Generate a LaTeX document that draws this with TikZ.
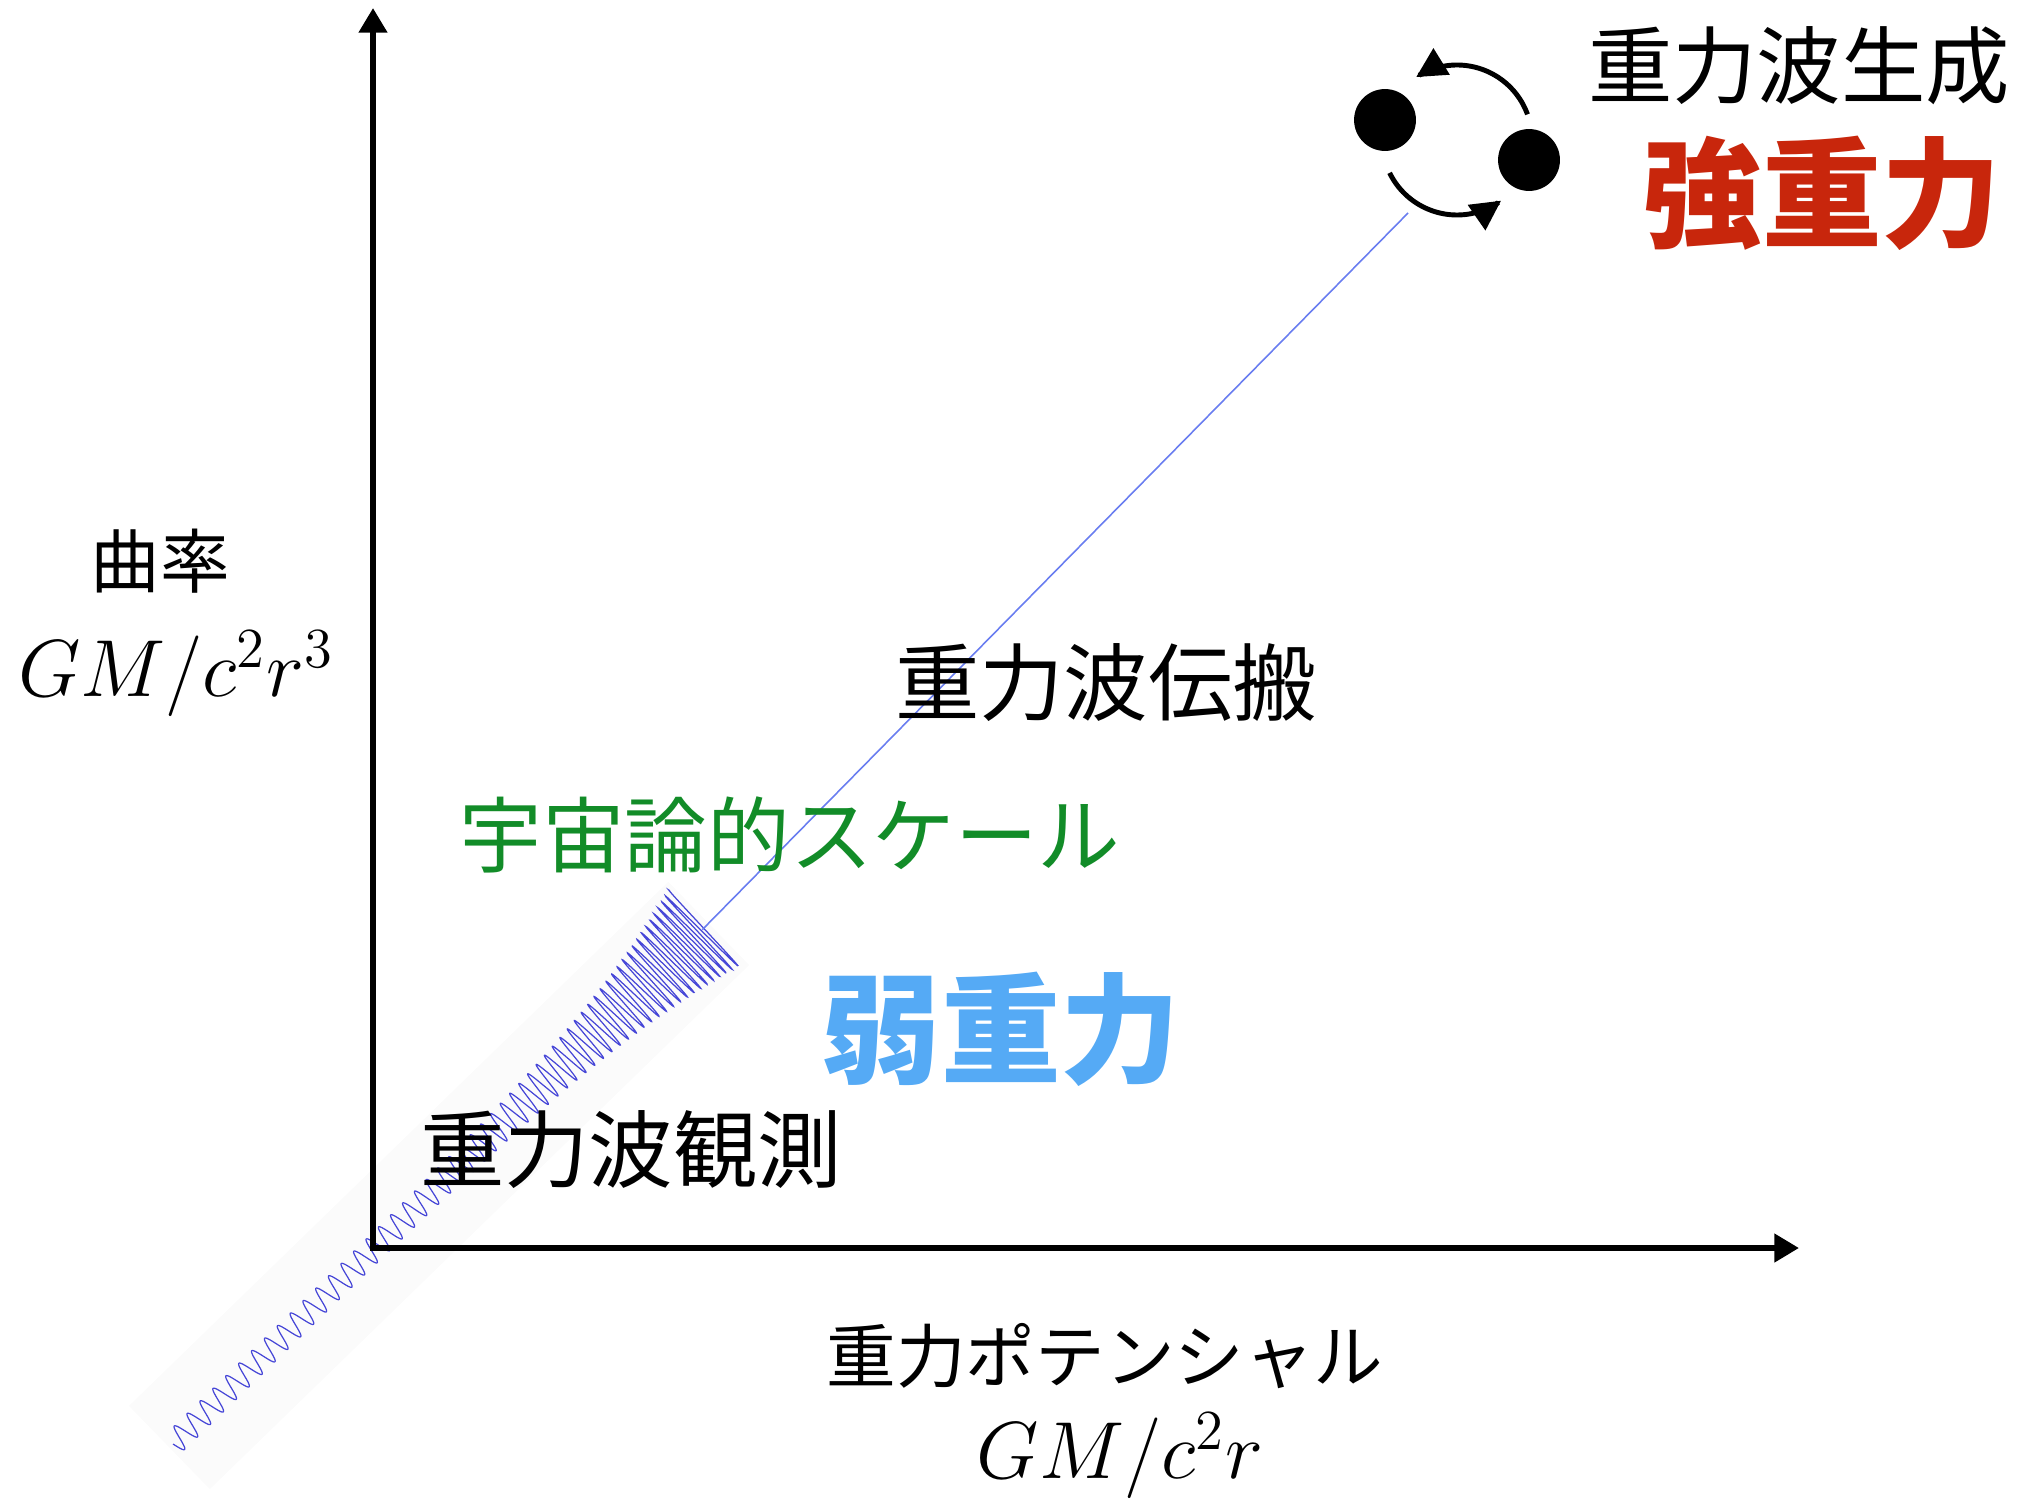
\RequirePackage{fix-cm}
\documentclass[tikz,border=0pt]{standalone}
\usepackage{fontspec}
\usetikzlibrary{arrows.meta}
\newfontfamily\jp{Noto Sans CJK JP}
\definecolor{strongred}{RGB}{200,38,12}
\definecolor{weakblue}{RGB}{85,170,245}
\definecolor{cosmogreen}{RGB}{18,140,40}
\definecolor{wavecol}{RGB}{70,70,215}
\definecolor{raycol}{RGB}{105,125,240}
\definecolor{bandgray}{RGB}{251,251,251}
\tikzset{
  axisline/.style={line width=1.7pt, {Triangle[length=7pt,width=7.8pt]}-{Triangle[length=7pt,width=7.8pt]}},
  label/.style={inner sep=0pt, font=\jp\fontsize{24}{28}\selectfont},
  axislabel/.style={inner sep=0pt, font=\jp\fontsize{19.8}{24}\selectfont},
  mathlabel/.style={inner sep=0pt, font=\fontsize{23}{27}\selectfont},
  bigword/.style={inner sep=0pt, font=\jp\bfseries\fontsize{34}{40}\selectfont},
  star/.style={circle, fill=black, minimum size=17.6pt, inner sep=0pt},
  orbit/.style={line width=1.4pt, -{Triangle[length=8.5pt,width=8.5pt]}},
  ray/.style={raycol, line width=0.45pt},
  wave/.style={wavecol, line width=0.35pt}
}
\begin{document}
\begin{tikzpicture}[x=0.01cm, y=-0.01cm]
\useasboundingbox (0,0) rectangle (2025,1500);

% axes
\coordinate (ytip) at (373,8);
\coordinate (O) at (373,1248);
\coordinate (xtip) at (1799,1248);

% chirping wave train, drawn along its own axis (u runs 0..1 over 742 units)
\coordinate (wstart) at (173,1444);
\begin{scope}[shift={(wstart)}, rotate=44.18]
  \fill[bandgray] (-5,-58) rectangle (747,58);
  \draw[wave] plot[domain=0:1, samples=2400, variable=\u]
    ({742*\u}, {(12+40*\u^5)*sin(360*frac(41.22*\u+14.58*\u^5))});
  \coordinate (wend) at (738,0);
\end{scope}

\draw[axisline] (ytip) -- (O) -- (xtip);

% binary system
\node[star] (bh1) at (1385,120) {};
\node[star] (bh2) at (1529,160) {};
\coordinate (orb) at (1457,140);
\draw[orbit] plot[domain=20:123, samples=40, variable=\a]
  ({1457+75*cos(\a)}, {140-75*sin(\a)});
\draw[orbit] plot[domain=206:306, samples=40, variable=\a]
  ({1457+75*cos(\a)}, {140-75*sin(\a)});

% propagation ray from the source to the wave train
\coordinate (src) at (1408,213);
\draw[ray] (src) -- (wend);

% labels
\node[label] (gen) at (1799,66) {重力波生成};
\node[bigword, text=strongred] (strong) at (1822,193) {強重力};
\node[axislabel] (curv) at (160,561) {曲率};
\node[mathlabel] (curvm) at (176,674) {$GM/c^2r^3$};
\node[label] (prop) at (1106,683) {重力波伝搬};
\node[label, text=cosmogreen, font=\jp\fontsize{23.5}{28}\selectfont] (cosmo) at (790,835) {宇宙論的スケール};
\node[bigword, text=weakblue] (weak) at (1001,1029) {弱重力};
\node[label] (obs) at (631,1150) {重力波観測};
\node[axislabel] (pot) at (1105,1356) {重力ポテンシャル};
\node[mathlabel] (potm) at (1120,1456) {$GM/c^2r$};
\end{tikzpicture}
\end{document}
